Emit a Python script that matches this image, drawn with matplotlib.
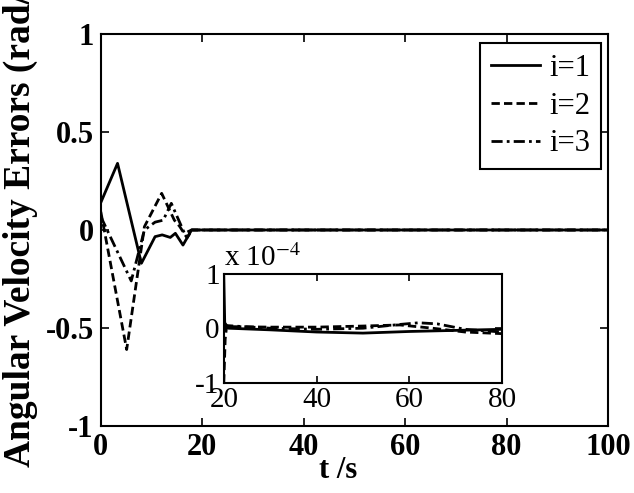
import matplotlib.pyplot as plt

plt.rcParams['font.family'] = ['Liberation Serif', 'DejaVu Serif']
plt.rcParams['mathtext.fontset'] = 'stix'

# main plot data (t in s, error in rad/s)
t1 = [0, 3.3, 8.0, 10.7, 12.1, 13.7, 14.7, 16.2, 17.9, 20, 100]
e1 = [0.14, 0.34, -0.17, -0.034, -0.025, -0.038, -0.017, -0.077, 0.0, 0.0, 0.0]
t2 = [0, 5.1, 8.6, 12.0, 14.5, 15.5, 17.0, 18.0, 20, 100]
e2 = [0.093, -0.61, 0.017, 0.187, 0.05, 0.02, -0.04, 0.0, 0.0, 0.0]
t3 = [0, 6.0, 8.6, 10.7, 12.3, 13.9, 16.5, 17.9, 20, 100]
e3 = [0.068, -0.26, 0.0, 0.04, 0.05, 0.136, -0.017, 0.0, 0.0, 0.0]

# inset data (x 1e-4)
ti1 = [20, 20.2, 21, 30, 40, 50, 60, 70, 80]
ei1 = [0.95, 0.1, 0.0, -0.03, -0.07, -0.09, -0.06, -0.04, -0.02]
ti2 = [20, 20.3, 20.6, 30, 40, 50, 58, 65, 72, 80]
ei2 = [-1.0, -0.2, 0.03, 0.02, 0.02, 0.04, 0.06, 0.0, -0.07, -0.1]
ti3 = [20, 20.3, 30, 40, 50, 58, 62, 66, 72, 80]
ei3 = [0.0, 0.05, 0.0, -0.02, 0.0, 0.07, 0.1, 0.08, -0.02, -0.07]

labels = ['i=1', 'i=2', 'i=3']
styles = ['-', (0, (3, 1.5)), (0, (4, 1.5, 1, 1.5))]

fig = plt.figure(figsize=(6.34, 4.93), dpi=100)
ax = fig.add_axes([0.159, 0.136, 0.8, 0.795])

for t, e, lab, ls in zip([t1, t2, t3], [e1, e2, e3], labels, styles):
    ax.plot(t, e, color='black', lw=2, linestyle=ls, label=lab)

ax.set_xlim(0, 100)
ax.set_ylim(-1, 1)
ax.set_xticks([0, 20, 40, 60, 80, 100])
ax.set_yticks([-1, -0.5, 0, 0.5, 1])
ax.set_yticklabels(['-1', '-0.5', '0', '0.5', '1'])
ax.tick_params(direction='in', top=True, right=True, length=6, width=1.2,
               labelsize=22, pad=5)
for lbl in ax.get_xticklabels() + ax.get_yticklabels():
    lbl.set_fontweight('bold')
for s in ax.spines.values():
    s.set_linewidth(1.5)

leg = ax.legend(loc='upper right', bbox_to_anchor=(0.986, 0.976), borderaxespad=0,
                fontsize=22, handlelength=1.6, handletextpad=0.3, labelspacing=0.28,
                borderpad=0.35, fancybox=False, edgecolor='black', framealpha=1)
leg.get_frame().set_linewidth(1.5)

fig.text(338 / 634, 1 - 470 / 493, 't /s', fontsize=22, fontweight='bold',
         ha='center', va='center')
fig.text(0.033, 1 - 467 / 493, 'Angular Velocity Errors (rad/s)', fontsize=27,
         fontweight='bold', rotation=90, ha='center', va='bottom')

# inset
axi = fig.add_axes([0.353, 0.224, 0.439, 0.2205])
for t, e, ls in zip([ti1, ti2, ti3], [ei1, ei2, ei3], styles):
    axi.plot(t, e, color='black', lw=2, linestyle=ls)
axi.set_xlim(20, 80)
axi.set_ylim(-1, 1)
axi.set_xticks([20, 40, 60, 80])
axi.set_yticks([-1, 0, 1])
axi.set_yticklabels(['-1', '0', '1'])
axi.tick_params(direction='in', top=True, right=True, length=5, width=1.2,
                labelsize=21, pad=3)
for s in axi.spines.values():
    s.set_linewidth(1.5)
axi.text(0, 1.02, r'x 10$^{-4}$', transform=axi.transAxes, fontsize=21,
         ha='left', va='bottom')

fig.savefig('out.png', dpi=100)
